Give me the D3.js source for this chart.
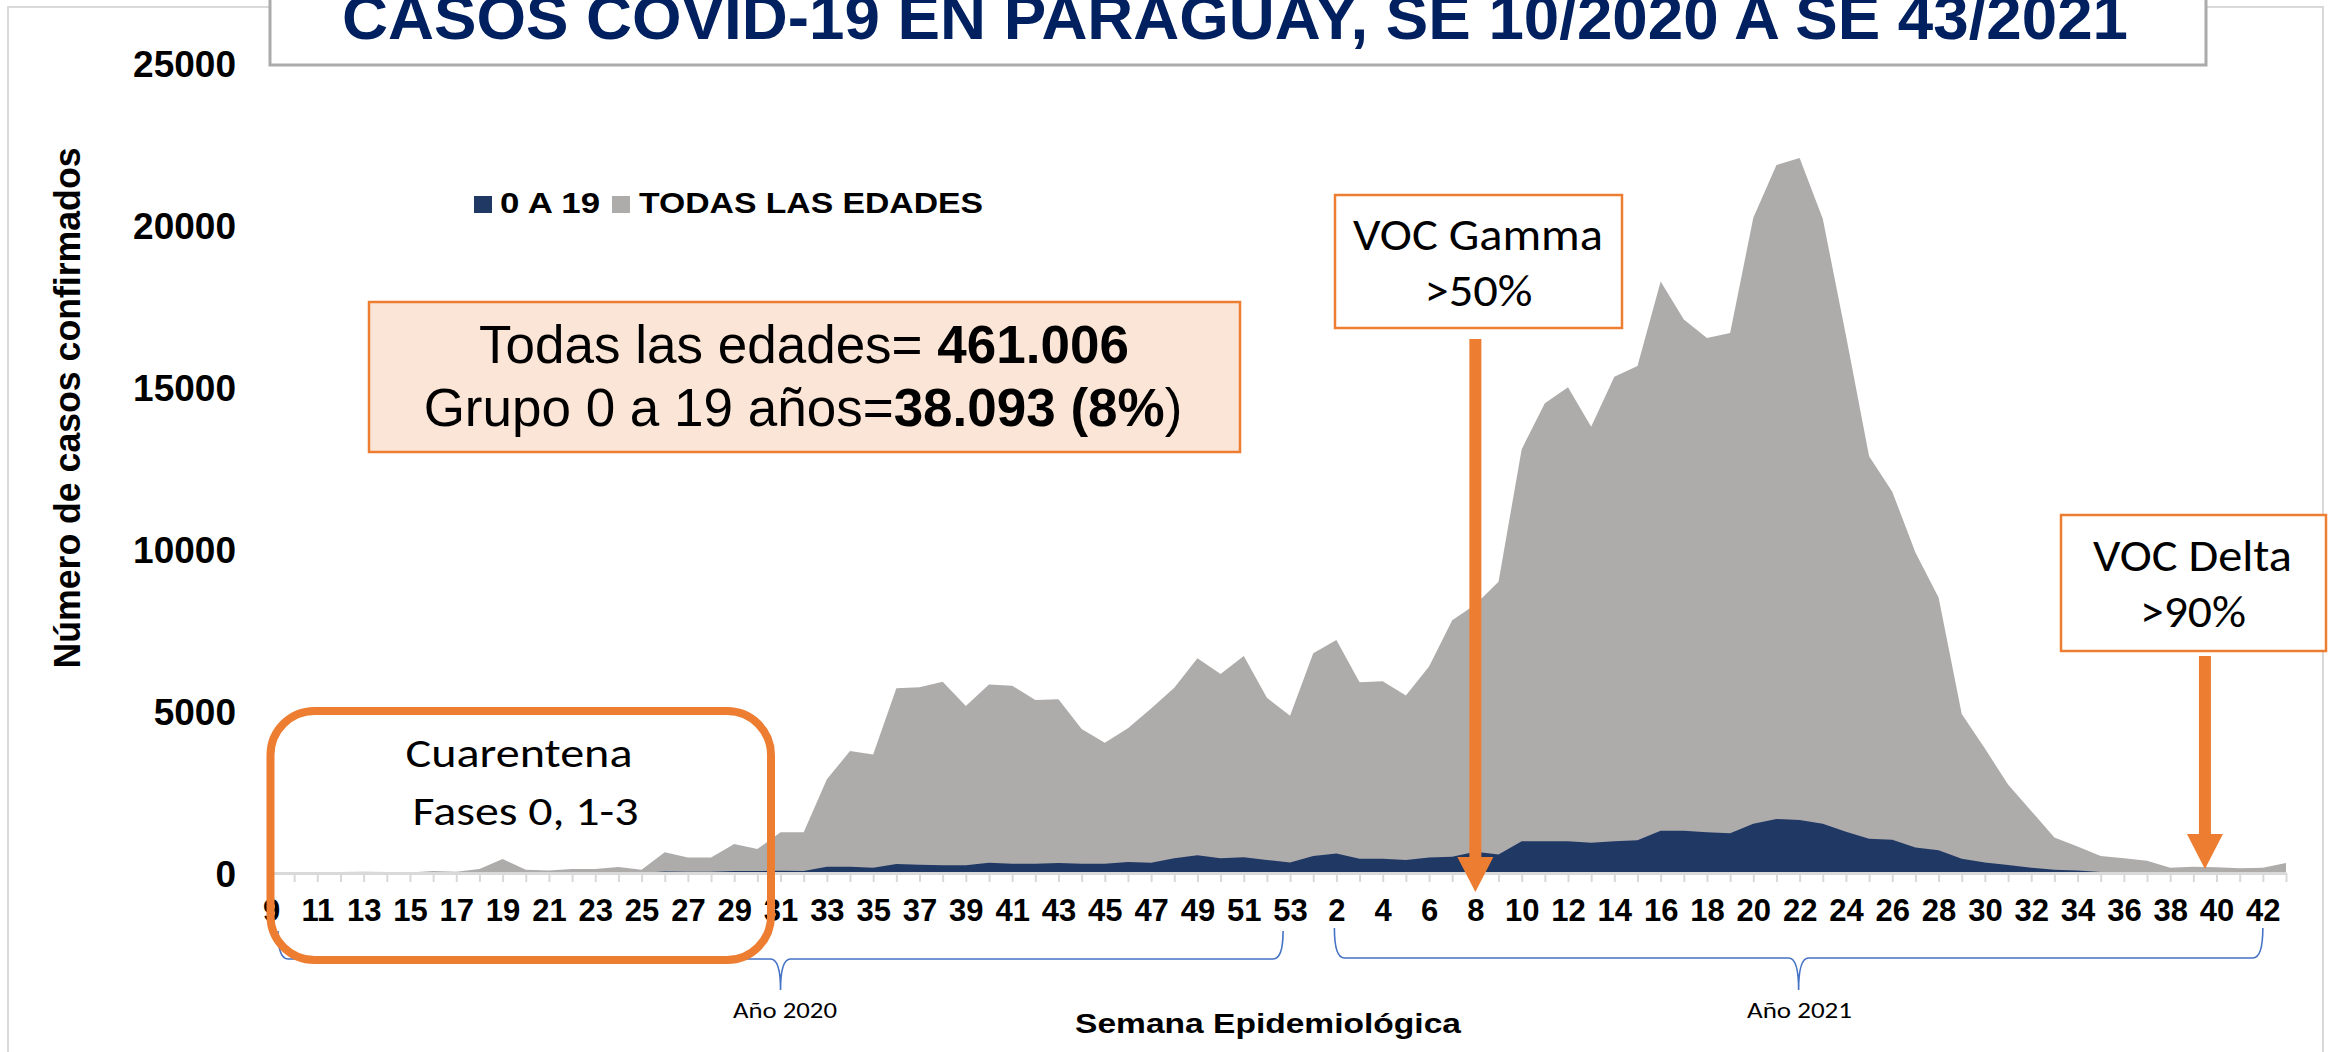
<!DOCTYPE html>
<html>
<head>
<meta charset="utf-8">
<script src="https://cdn.jsdelivr.net/npm/d3@7"></script>
<style>
  body { margin: 0; background: #fff; }
  svg { display: block; }
  text { font-family: "Liberation Sans", Arial, sans-serif; }
  text.cal { font-family: Carlito, Calibri, Lato, sans-serif; }
</style>
</head>
<body>
<svg id="chart" width="2336" height="1052"></svg>
<script>
// epidemiological weeks shown on the x axis
const weeks2020 = [9, 10, 11, 12, 13, 14, 15, 16, 17, 18, 19, 20, 21, 22, 23, 24, 25, 26, 27, 28, 29, 30, 31,
  32, 33, 34, 35, 36, 37, 38, 39, 40, 41, 42, 43, 44, 45, 46, 47, 48, 49, 50, 51, 52, 53];
const weeks2021 = [1, 2, 3, 4, 5, 6, 7, 8, 9, 10, 11, 12, 13, 14, 15, 16, 17, 18, 19, 20, 21, 22,
  23, 24, 25, 26, 27, 28, 29, 30, 31, 32, 33, 34, 35, 36, 37, 38, 39, 40, 41, 42, 43];

// TODAS LAS EDADES
const todas2020 = [0, 10, 10, 30, 40, 30, 15, 60, 35, 120,
  430, 100, 80, 120, 120, 185, 100, 640, 475, 475,
  895, 740, 1255, 1255, 2890, 3765, 3660, 5700, 5730, 5905,
  5155, 5820, 5780, 5340, 5360, 4445, 4020, 4465, 5080, 5720,
  6625, 6140, 6700, 5410, 4850];
const todas2021 = [6780, 7190, 5890, 5920, 5475, 6370, 7800, 8290, 8990, 13080,
  14500, 14990, 13770, 15320, 15650, 18260, 17080, 16510, 16670, 20220,
  21850, 22070, 20190, 16590, 12860, 11770, 9890, 8500, 4905, 3840,
  2730, 1915, 1095, 820, 525, 457, 376, 163, 195, 180,
  150, 163, 310];

// 0 A 19
const ninos2020 = [0, 1, 2, 3, 5, 4, 3, 6, 4, 10,
  30, 10, 8, 10, 12, 15, 10, 45, 35, 40,
  65, 60, 72, 62, 195, 195, 165, 278, 257, 237,
  237, 318, 288, 288, 308, 288, 288, 340, 318, 453,
  545, 453, 483, 400, 327];
const ninos2021 = [525, 605, 440, 440, 400, 475, 505, 655, 570, 980,
  980, 980, 930, 980, 1010, 1305, 1305, 1260, 1225, 1520,
  1665, 1635, 1520, 1275, 1060, 1030, 785, 705, 440, 327,
  245, 165, 100, 80, 30, 25, 25, 20, 20, 20,
  20, 20, 20];

const yTicks = [0, 5000, 10000, 15000, 20000, 25000];
const legendLabels = ["0 A 19", "TODAS LAS EDADES"];

const weekLabels = weeks2020.concat(weeks2021);
const todas = todas2020.concat(todas2021);
const ninos = ninos2020.concat(ninos2021);
const idx = d3.range(weekLabels.length);

const GREY = "#AEABAB", NAVY = "#203864", ORANGE = "#ED7D31";

const svg = d3.select("#chart");

const x = d3.scalePoint().domain(idx).range([271, 2286]);
const y = d3.scaleLinear().domain([0, 25000]).range([873, 63]);

// outer frame
svg.append("rect").attr("x", 8).attr("y", 7).attr("width", 2315).attr("height", 1100)
  .attr("fill", "none").attr("stroke", "#D9D9D9").attr("stroke-width", 2);

// areas
const area = d => d3.area().x((v, i) => x(i)).y0(y(0)).y1(v => y(v))(d);
svg.append("path").attr("d", area(todas)).attr("fill", GREY);
svg.append("path").attr("d", area(ninos)).attr("fill", NAVY);

// x axis
const gx = svg.append("g")
  .attr("transform", `translate(0,${y(0)})`)
  .call(d3.axisBottom(x).tickSize(9).tickSizeOuter(0).tickPadding(17)
    .tickFormat(i => i % 2 === 0 ? weekLabels[i] : ""));
gx.attr("font-size", 31).attr("font-weight", "bold");
gx.select(".domain").attr("stroke", "#D9D9D9").attr("stroke-width", 3);
gx.selectAll(".tick line").attr("stroke", "#D9D9D9").attr("stroke-width", 2);
gx.selectAll(".tick text").attr("fill", "#000");

// y axis
const gy = svg.append("g")
  .attr("transform", "translate(236,0)")
  .call(d3.axisLeft(y).tickValues(yTicks).tickSize(0).tickPadding(0).tickFormat(d3.format("d")));
gy.attr("font-size", 37).attr("font-weight", "bold");
gy.select(".domain").remove();
gy.selectAll(".tick text").attr("fill", "#000").attr("dy", "0.36em");

// axis titles
svg.append("text")
  .attr("transform", "translate(80,408) rotate(-90)")
  .attr("text-anchor", "middle").attr("font-size", 36).attr("font-weight", "bold")
  .attr("textLength", 521).attr("lengthAdjust", "spacingAndGlyphs")
  .text("Número de casos confirmados");
svg.append("text")
  .attr("x", 1268).attr("y", 1033)
  .attr("text-anchor", "middle").attr("font-size", 28).attr("font-weight", "bold")
  .attr("textLength", 386).attr("lengthAdjust", "spacingAndGlyphs")
  .text("Semana Epidemiológica");

// title box
svg.append("rect").attr("x", 270).attr("y", -10).attr("width", 1936).attr("height", 75)
  .attr("fill", "#fff").attr("stroke", "#ABABAB").attr("stroke-width", 3);
svg.append("text")
  .attr("x", 1235).attr("y", 39).attr("text-anchor", "middle")
  .attr("font-size", 63).attr("font-weight", "bold").attr("fill", "#002060")
  .attr("textLength", 1786).attr("lengthAdjust", "spacingAndGlyphs")
  .text("CASOS COVID-19 EN PARAGUAY, SE 10/2020 A SE 43/2021");

// legend
const legend = [
  { sq: 474, tx: 500, w: 100, color: NAVY },
  { sq: 612, tx: 639, w: 344, color: GREY }
];
legend.forEach((l, i) => {
  svg.append("rect").attr("x", l.sq).attr("y", 196).attr("width", 18).attr("height", 17).attr("fill", l.color);
  svg.append("text").attr("x", l.tx).attr("y", 213)
    .attr("font-size", 30).attr("font-weight", "bold")
    .attr("textLength", l.w).attr("lengthAdjust", "spacingAndGlyphs")
    .text(legendLabels[i]);
});

// totals box
svg.append("rect").attr("x", 369).attr("y", 302).attr("width", 871).attr("height", 150)
  .attr("fill", "#FBE5D6").attr("stroke", ORANGE).attr("stroke-width", 2.5);
const t1 = svg.append("text").attr("x", 804).attr("y", 363).attr("text-anchor", "middle").attr("font-size", 53);
t1.append("tspan").text("Todas las edades= ");
t1.append("tspan").attr("font-weight", "bold").text("461.006");
const t2 = svg.append("text").attr("x", 803).attr("y", 426).attr("text-anchor", "middle").attr("font-size", 53);
t2.append("tspan").text("Grupo 0 a 19 años=");
t2.append("tspan").attr("font-weight", "bold").text("38.093 (8%");
t2.append("tspan").text(")");

// callout boxes with arrows
function arrow(cx, top, headTop, tip) {
  const b = 6, h = 18;
  return `M${cx - b},${top} L${cx + b},${top} L${cx + b},${headTop} L${cx + h},${headTop} L${cx},${tip} L${cx - h},${headTop} L${cx - b},${headTop} Z`;
}
function callout(bx, by, bw, bh, lines) {
  svg.append("rect").attr("x", bx).attr("y", by).attr("width", bw).attr("height", bh)
    .attr("fill", "#fff").attr("stroke", ORANGE).attr("stroke-width", 2.5);
  lines.forEach(l => {
    svg.append("text").attr("class", "cal").attr("x", l.x).attr("y", l.y)
      .attr("text-anchor", "middle").attr("font-size", 45)
      .attr("textLength", l.w).attr("lengthAdjust", "spacingAndGlyphs").text(l.t);
  });
}
callout(1335, 195, 287, 133, [
  { t: "VOC Gamma", x: 1478, y: 250, w: 250 },
  { t: ">50%", x: 1478.5, y: 306, w: 108 }
]);
svg.append("path").attr("d", arrow(x(52), 339, 857, 892)).attr("fill", ORANGE);

callout(2061, 515, 265, 136, [
  { t: "VOC Delta", x: 2192.5, y: 571, w: 199 },
  { t: ">90%", x: 2193, y: 627, w: 106 }
]);
svg.append("path").attr("d", arrow((x(83) + x(84)) / 2, 656, 834, 869)).attr("fill", ORANGE);

// year braces
function brace(x0, x1, yTop, yMid, yTip) {
  const xm = (x0 + x1) / 2, r = 10;
  return `M${x0},${yTop} Q${x0},${yMid} ${x0 + r},${yMid} L${xm - r},${yMid} Q${xm},${yMid} ${xm},${yTip} ` +
    `Q${xm},${yMid} ${xm + r},${yMid} L${x1 - r},${yMid} Q${x1},${yMid} ${x1},${yTop}`;
}
svg.append("path").attr("d", brace(x(0) + 7, x(44) - 7, 931, 959, 990))
  .attr("fill", "none").attr("stroke", "#4472C4").attr("stroke-width", 1.6);
svg.append("path").attr("d", brace(x(46) - 2, x(86), 928, 958, 990))
  .attr("fill", "none").attr("stroke", "#4472C4").attr("stroke-width", 1.6);
[["Año 2020", 785, 104], ["Año 2021", 1799.5, 105]].forEach(d => {
  svg.append("text").attr("class", "cal").attr("x", d[1]).attr("y", 1018)
    .attr("text-anchor", "middle").attr("font-size", 22)
    .attr("textLength", d[2]).attr("lengthAdjust", "spacingAndGlyphs").text(d[0]);
});

// quarantine box
svg.append("rect").attr("x", 270.5).attr("y", 711).attr("width", 500.5).attr("height", 249)
  .attr("rx", 44).attr("ry", 44)
  .attr("fill", "none").attr("stroke", ORANGE).attr("stroke-width", 8);
[["Cuarentena", 519, 767, 227], ["Fases 0, 1-3", 525.5, 825, 226]].forEach(d => {
  svg.append("text").attr("class", "cal").attr("x", d[1]).attr("y", d[2])
    .attr("text-anchor", "middle").attr("font-size", 40)
    .attr("textLength", d[3]).attr("lengthAdjust", "spacingAndGlyphs").text(d[0]);
});
</script>
</body>
</html>
